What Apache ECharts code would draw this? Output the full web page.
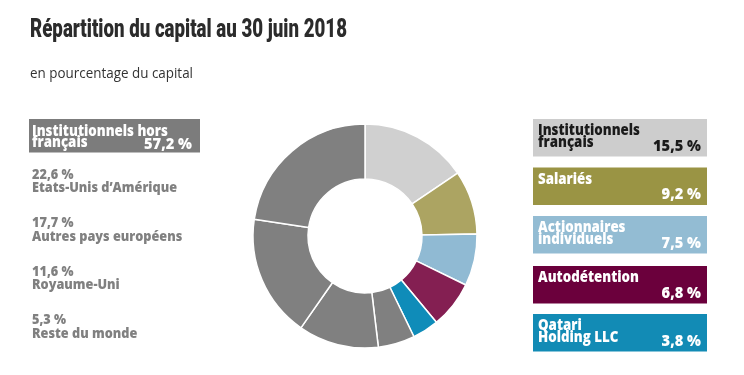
<!DOCTYPE html>
<html>
<head>
<meta charset="utf-8">
<script src="https://cdn.jsdelivr.net/npm/echarts@6/dist/echarts.min.js"></script>
<style>
html,body{margin:0;padding:0;background:#fff;}
#c{width:744px;height:375px;}
</style>
</head>
<body>
<div id="c"></div>
<script>
const titleText = 'Répartition du capital au 30 juin 2018';
const subtitleText = 'en pourcentage du capital';
const categories = ['Institutionnels français','Salariés','Actionnaires individuels','Autodétention','Qatari Holding LLC','Reste du monde','Royaume-Uni','Autres pays européens','Etats-Unis d’Amérique'];
const values = [15.5, 9.2, 7.5, 6.8, 3.8, 5.3, 11.6, 17.7, 22.6];
const sliceColors = ['#d0d0d0','#aca462','#90bad3','#841f52','#0f8cb9','#808080','#808080','#808080','#808080'];
const rightLabels = [['Institutionnels','français'],['Salariés'],['Actionnaires','individuels'],['Autodétention'],['Qatari','Holding LLC']];
const rightBoxColors = ['#cdcdcd','#9a9444','#93bcd3','#6b003c','#128bb5'];
const rightTextColors = ['#1a1a1a','#ffffff','#ffffff','#ffffff','#ffffff'];
const leftGroupLabel = ['Institutionnels hors','français'];
const leftGroupValue = 57.2;
const leftItems = ['Etats-Unis d’Amérique','Autres pays européens','Royaume-Uni','Reste du monde'];
const leftValues = [22.6, 17.7, 11.6, 5.3];

const fmt = v => v.toFixed(1).replace('.', ',') + ' %';
const FONT = '"Open Sans", "DejaVu Sans", sans-serif';
const TITLE_FONT = '900 25px Roboto, "Liberation Sans", sans-serif';
const SUB_FONT = '14px ' + FONT;
const BOX_FONT = '800 15px ' + FONT;
const VAL_FONT = '800 15px ' + FONT;
const ITEM_FONT = '800 14px ' + FONT;

const mctx = document.createElement('canvas').getContext('2d');
function fitScale(font, text, target) {
  mctx.font = font;
  return target / mctx.measureText(text).width;
}
const titleScale = fitScale(TITLE_FONT, titleText, 317);
const subScale = fitScale(SUB_FONT, subtitleText, 163);
const boxScale = fitScale(BOX_FONT, 'Institutionnels', 102);
const valScale = fitScale(VAL_FONT, '15,5 %', 48);
const itemScale = fitScale(ITEM_FONT, 'Etats-Unis d’Amérique', 145);

function txt(x, y, text, font, fill, scale, align) {
  return {type:'text', x:x, y:y, scaleX:scale, silent:true,
    style:{text:text, font:font, fill:fill, align:align || 'left', verticalAlign:'middle'}};
}

const graphics = [];
graphics.push(txt(30, 31, titleText, TITLE_FONT, '#2b2b2b', titleScale));
graphics.push(txt(30, 74.5, subtitleText, SUB_FONT, '#333333', subScale));

// left group box
graphics.push({type:'rect', shape:{x:29, y:119, width:171, height:33.5}, style:{fill:'#7c7c7c'}});
leftGroupLabel.forEach((line, j) => {
  graphics.push(txt(32, 131.5 + j * 11.5, line, BOX_FONT, '#ffffff', boxScale));
});
graphics.push(txt(192, 144.5, fmt(leftGroupValue), VAL_FONT, '#ffffff', valScale, 'right'));
leftItems.forEach((name, i) => {
  const y0 = 175 + i * 48.5;
  graphics.push(txt(32, y0, fmt(leftValues[i]), ITEM_FONT, '#808080', itemScale));
  graphics.push(txt(32, y0 + 13.5, name, ITEM_FONT, '#808080', itemScale));
});

// right boxes
const boxTops = [119, 167.5, 216, 266, 314];
rightLabels.forEach((lines, i) => {
  const t = boxTops[i];
  graphics.push({type:'rect', shape:{x:533, y:t, width:174, height:37.5}, style:{fill:rightBoxColors[i]}});
  lines.forEach((line, j) => {
    graphics.push(txt(538, t + 12.2 + j * 12, line, BOX_FONT, rightTextColors[i], boxScale));
  });
  graphics.push(txt(701, t + 27.5, fmt(values[i]), VAL_FONT, rightTextColors[i], valScale, 'right'));
});

const chart = echarts.init(document.getElementById('c'), null, {renderer:'canvas'});
chart.setOption({
  animation:false,
  graphic: graphics,
  series:[{
    type:'pie',
    center:[365, 236],
    radius:[57, 112],
    startAngle:90,
    clockwise:true,
    label:{show:false},
    labelLine:{show:false},
    emphasis:{disabled:true},
    itemStyle:{borderColor:'#ffffff', borderWidth:1.5},
    data: categories.map((n, i) => ({name:n, value:values[i], itemStyle:{color:sliceColors[i]}}))
  }]
});
</script>
</body>
</html>
